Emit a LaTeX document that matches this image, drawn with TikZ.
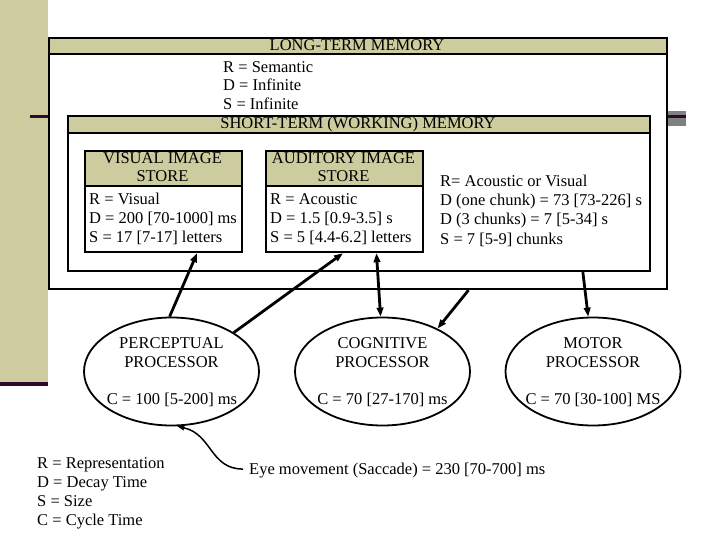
\documentclass[tikz,border=0pt]{standalone}
\usepackage{fontspec}
\setmainfont{Liberation Serif}
\usetikzlibrary{arrows.meta,calc,shapes.geometric}
\definecolor{khakiband}{RGB}{204,204,158}
\definecolor{purp}{RGB}{45,10,45}
\definecolor{greyb}{RGB}{128,128,128}
\begin{document}
\begin{tikzpicture}[x=1pt,y=-1pt,
  txt/.style={font=\fontsize{16.5}{19}\selectfont, inner sep=0pt},
  box/.style={draw, line width=2.2pt, fill=white, inner sep=0pt, anchor=north west},
  head/.style={draw, line width=2.2pt, fill=khakiband, inner sep=0pt, anchor=north west},
  proc/.style={draw, line width=1.8pt, ellipse, minimum width=175pt, minimum height=108pt, inner sep=0pt},
  arr/.style={line width=2.8pt, -{Triangle[length=9pt,width=6.5pt]}},
  darr/.style={line width=2.8pt, {Triangle[length=9pt,width=6.5pt]}-{Triangle[length=9pt,width=6.5pt]}},
]
\useasboundingbox (0,0) rectangle (720,540);
\fill[white] (0,0) rectangle (720,540);
% slide decoration
\fill[khakiband] (0,0) rectangle (48,382);
\fill[purp] (0,382) rectangle (48,386);
\fill[purp] (30,115.5) rectangle (48,118.5);
\fill[greyb] (667,111) rectangle (686,126);
\fill[purp] (667,115.5) rectangle (686,118.5);

% long-term memory
\node[box, minimum width=618pt, minimum height=251pt] (ltm) at (48,37) {};
\node[head, minimum width=618pt, minimum height=16pt] (ltmh) at (48,37) {};
\node[txt, anchor=base] (ltmt) at (357,51) {LONG-TERM MEMORY};
\node[txt, anchor=base west] (ltm1) at (223,72.5) {R = Semantic};
\node[txt, anchor=base west] (ltm2) at (223,91) {D = Infinite};
\node[txt, anchor=base west] (ltm3) at (223,110) {S = Infinite};

% short-term memory
\node[box, minimum width=582pt, minimum height=155pt] (stm) at (67,115) {};
\node[head, minimum width=582pt, minimum height=17pt] (stmh) at (67,115) {};
\node[txt, anchor=base] (stmt) at (358,129) {SHORT-TERM (WORKING) MEMORY};

% visual image store
\node[box, minimum width=157pt, minimum height=101pt] (vis) at (84,150) {};
\node[head, minimum width=157pt, minimum height=35pt] (vish) at (84,150) {};
\node[txt, anchor=base] (vist1) at (162.5,163.5) {VISUAL IMAGE};
\node[txt, anchor=base] (vist2) at (162.5,182) {STORE};
\node[txt, anchor=base west] (vis1) at (89,205) {R = Visual};
\node[txt, anchor=base west] (vis2) at (89,223.5) {D = 200 [70-1000] ms};
\node[txt, anchor=base west] (vis3) at (89,242) {S = 17 [7-17] letters};

% auditory image store
\node[box, minimum width=157pt, minimum height=101pt] (aud) at (265,150) {};
\node[head, minimum width=157pt, minimum height=35pt] (audh) at (265,150) {};
\node[txt, anchor=base] (audt1) at (343.5,163.5) {AUDITORY IMAGE};
\node[txt, anchor=base] (audt2) at (343.5,182) {STORE};
\node[txt, anchor=base west] (aud1) at (270,205) {R = Acoustic};
\node[txt, anchor=base west] (aud2) at (270,223.5) {D = 1.5 [0.9-3.5] s};
\node[txt, anchor=base west] (aud3) at (270,242) {S = 5 [4.4-6.2] letters};

% working memory parameters
\node[txt, anchor=base west] (wm1) at (440,187) {R= Acoustic or Visual};
\node[txt, anchor=base west] (wm2) at (440,206) {D (one chunk) = 73 [73-226] s};
\node[txt, anchor=base west] (wm3) at (440,225) {D (3 chunks) = 7 [5-34] s};
\node[txt, anchor=base west] (wm4) at (440,244) {S = 7 [5-9] chunks};

% processors
\node[proc] (perc) at (171.5,371.5) {};
\node[txt, anchor=base] (perc1) at (171.5,348) {PERCEPTUAL};
\node[txt, anchor=base] (perc2) at (171.5,367) {PROCESSOR};
\node[txt, anchor=base] (perc3) at (172,404) {C = 100 [5-200] ms};

\node[proc] (cog) at (382.5,371.5) {};
\node[txt, anchor=base] (cog1) at (382.5,348) {COGNITIVE};
\node[txt, anchor=base] (cog2) at (382.5,367) {PROCESSOR};
\node[txt, anchor=base] (cog3) at (382.5,404) {C = 70 [27-170] ms};

\node[proc] (motor) at (593,371.5) {};
\node[txt, anchor=base] (mot1) at (593,348) {MOTOR};
\node[txt, anchor=base] (mot2) at (593,367) {PROCESSOR};
\node[txt, anchor=base] (mot3) at (593,404) {C = 70 [30-100] MS};

% legend
\node[txt, anchor=base west] (leg1) at (37,468) {R = Representation};
\node[txt, anchor=base west] (leg2) at (37,487) {D = Decay Time};
\node[txt, anchor=base west] (leg3) at (37,506) {S = Size};
\node[txt, anchor=base west] (leg4) at (37,525) {C = Cycle Time};

\node[txt, anchor=base west] (eye) at (249,474) {Eye movement (Saccade) = 230 [70-700] ms};

% connectors
\draw[arr] (perc.92) -- ($(vis.south west)!0.71!(vis.south east)$);
\draw[arr] (perc.32) -- ($(aud.south west)!0.49!(aud.south east)$);
\draw[darr] ($(aud.south west)!0.70!(aud.south east)$) -- (cog.92);
\draw[arr] ($(ltm.south west)!0.678!(ltm.south east)$) -- (cog.38);
\draw[arr] ($(stm.south west)!0.883!(stm.south east)$) -- (motor.95);
\draw[line width=1.5pt, -{Triangle[length=7pt,width=5pt]}] ($(eye.west)+(-6,-1)$) .. controls +(-33,0) and +(35,8) .. (perc.276);
\end{tikzpicture}
\end{document}
